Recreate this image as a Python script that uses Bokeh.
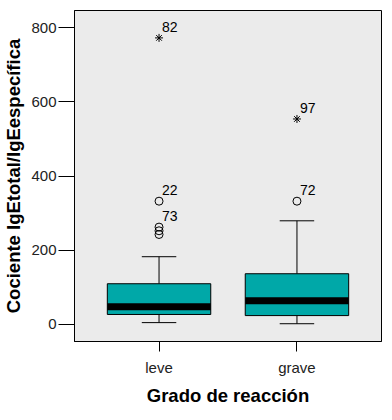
from bokeh.plotting import figure
from bokeh.models import Range1d, FixedTicker, ColumnDataSource
from bokeh.embed import file_html
from bokeh.resources import INLINE
from bokeh.core.properties import value

# ---- data ----
categories = ["leve", "grave"]
positions = [1, 2]
whisker_low = [4, 1]
q1 = [26, 23]
median = [47, 63]
q3 = [109, 136]
whisker_high = [182, 279]

# mild outliers (circles)
outlier_cat = [1, 1, 1, 1, 2]
outlier_val = [332, 262, 252, 242, 332]
# extreme outliers (stars)
extreme_cat = [1, 2]
extreme_val = [773, 554]

# case labels
label_cat = [1, 1, 1, 2, 2]
label_val = [773, 332, 262, 554, 332]
label_txt = ["82", "22", "73", "97", "72"]

y_ticks = [0, 200, 400, 600, 800]

BOX_W = 0.75
CAP_W = 0.25
TEAL = "#00A8A8"
FONT = "Liberation Sans"

p = figure(width=384, height=412, output_backend="svg", toolbar_location=None,
           x_range=Range1d(0.387, 2.613), y_range=Range1d(-47, 847),
           min_border_left=73, min_border_right=3, min_border_top=10, min_border_bottom=71)

p.background_fill_color = "#EBEBEB"
p.border_fill_color = "white"
p.outline_line_color = "black"
p.outline_line_width = 1
p.xgrid.visible = False
p.ygrid.visible = False

# whiskers
p.segment(x0=positions, y0=whisker_low, x1=positions, y1=q1, line_color="black", line_width=1)
p.segment(x0=positions, y0=q3, x1=positions, y1=whisker_high, line_color="black", line_width=1)
cap_l = [x - CAP_W / 2 for x in positions]
cap_r = [x + CAP_W / 2 for x in positions]
p.segment(x0=cap_l, y0=whisker_low, x1=cap_r, y1=whisker_low, line_color="black", line_width=1)
p.segment(x0=cap_l, y0=whisker_high, x1=cap_r, y1=whisker_high, line_color="black", line_width=1)

# boxes
p.vbar(x=positions, width=BOX_W, bottom=q1, top=q3, fill_color=TEAL,
       line_color="black", line_width=1)
# median
box_l = [x - BOX_W / 2 for x in positions]
box_r = [x + BOX_W / 2 for x in positions]
p.segment(x0=box_l, y0=median, x1=box_r, y1=median, line_color="black",
          line_width=7, line_cap="butt")

# outliers
p.scatter(x=outlier_cat, y=outlier_val, marker="circle", size=8,
          fill_color=None, line_color="black", line_width=1)
p.scatter(x=extreme_cat, y=extreme_val, marker="asterisk", size=8,
          line_color="black", line_width=1)

src = ColumnDataSource(dict(x=label_cat, y=label_val, t=label_txt))
p.text(x="x", y="y", text="t", source=src, x_offset=3, y_offset=-6,
       text_align="left", text_baseline="bottom", text_font=value(FONT),
       text_font_size="14px", text_color="black")

# axes
p.xaxis.ticker = FixedTicker(ticks=positions)
p.xaxis.major_label_overrides = {1: categories[0], 2: categories[1]}
p.xaxis.minor_tick_line_color = None
p.xaxis.major_tick_in = 0
p.xaxis.major_tick_out = 10
p.xaxis.major_label_standoff = 7
p.xaxis.axis_label = "Grado de reacción"
p.xaxis.axis_label_standoff = 6

p.yaxis.ticker = FixedTicker(ticks=y_ticks)
p.yaxis.minor_tick_line_color = None
p.yaxis.major_tick_in = 0
p.yaxis.major_tick_out = 16
p.yaxis.major_label_standoff = 2
p.yaxis.axis_label = "Cociente IgEtotal/IgEespecífica"
p.yaxis.axis_label_standoff = 4

for ax in (p.xaxis, p.yaxis):
    ax.axis_line_color = "black"
    ax.major_tick_line_color = "black"
    ax.major_label_text_font = FONT
    ax.major_label_text_font_size = "15px"
    ax.major_label_text_color = "#222222"
    ax.axis_label_text_font = FONT
    ax.axis_label_text_font_size = "18.5px"
    ax.axis_label_text_font_style = "bold"
    ax.axis_label_text_color = "black"

open("out.html", "w").write(file_html(p, INLINE))
